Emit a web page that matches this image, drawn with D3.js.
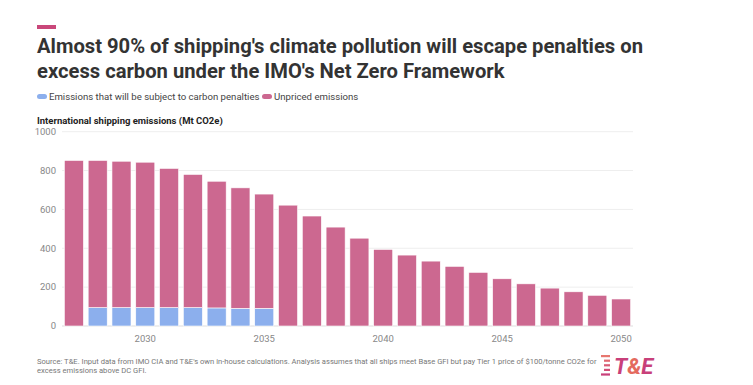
<!DOCTYPE html>
<html>
<head>
<meta charset="utf-8">
<script src="https://cdn.jsdelivr.net/npm/d3@7"></script>
<style>
  body { margin: 0; background: #fff; font-family: Roboto, "Noto Sans", sans-serif; }
  svg { display: block; }
</style>
</head>
<body>
<svg id="chart" width="753" height="385"></svg>
<script>
// data
let years = d3.range(2027, 2051);
let totalEmissions = [852, 852, 848, 843, 811, 780, 745, 711, 679, 622, 566, 509, 452, 394, 365, 334, 307, 276, 243, 217, 195, 176, 158, 139];
let penalised = [0, 95, 95, 95, 95, 95, 93, 91, 91, 0, 0, 0, 0, 0, 0, 0, 0, 0, 0, 0, 0, 0, 0, 0];
let yTicks = [0, 200, 400, 600, 800, 1000];
let xTicks = [2030, 2035, 2040, 2045, 2050];

let seriesNames = ['Emissions that will be subject to carbon penalties', 'Unpriced emissions'];
let pink = '#cc6890';
let blue = '#8cafed';

let svg = d3.select('#chart');

// top accent bar
svg.append('rect').attr('x', 37).attr('y', 25).attr('width', 19).attr('height', 4).attr('fill', '#c9477a');

// title
let titleLines = ["Almost 90% of shipping's climate pollution will escape penalties on",
  "excess carbon under the IMO's Net Zero Framework"];
svg.append('text')
  .attr('x', 37).attr('y', 53)
  .attr('font-size', 20.2).attr('font-weight', 'bold').attr('fill', '#333')
  .selectAll('tspan').data(titleLines).enter().append('tspan')
  .attr('x', 37).attr('dy', (d, i) => i === 0 ? 0 : 25)
  .text(d => d);

// legend
let legend = svg.append('g').attr('transform', 'translate(37, 96)');
let legendX = [0, 225];
seriesNames.forEach((name, i) => {
  let g = legend.append('g').attr('transform', 'translate(' + legendX[i] + ',0)');
  g.append('rect').attr('x', 0).attr('y', -2).attr('width', 10).attr('height', 5).attr('rx', 2.5)
    .attr('fill', i === 0 ? blue : pink);
  g.append('text').attr('x', 12).attr('y', 3.5).attr('font-size', 9.6).attr('fill', '#444').text(name);
});

// axis title
svg.append('text').attr('x', 37).attr('y', 124).attr('font-size', 9.5).attr('font-weight', 'bold')
  .attr('fill', '#222').text('International shipping emissions (Mt CO2e)');

let x = d3.scaleBand().domain(years).range([62, 633]).paddingInner(0.2).paddingOuter(0.1);
let y = d3.scaleLinear().domain([0, 1000]).range([326, 131.7]);

// grid
svg.append('g').selectAll('line').data(yTicks).enter().append('line')
  .attr('x1', 62).attr('x2', 633)
  .attr('y1', d => y(d)).attr('y2', d => y(d))
  .attr('stroke', d => d === 0 ? '#ddd' : '#eee').attr('stroke-width', 1);

svg.append('g').selectAll('text').data(yTicks).enter().append('text')
  .attr('x', 56).attr('y', d => y(d)).attr('dy', '0.35em')
  .attr('text-anchor', 'end').attr('font-size', 9.5).attr('fill', '#888')
  .text(d => d);

// stacked bars
let rows = years.map((yr, i) => ({ year: yr, penalised: penalised[i], unpriced: totalEmissions[i] - penalised[i] }));
let stack = d3.stack().keys(['penalised', 'unpriced'])(rows);
let colors = [blue, pink];

svg.append('g').selectAll('g').data(stack).enter().append('g')
  .attr('fill', (d, i) => colors[i])
  .selectAll('rect').data(d => d.filter(p => p[1] - p[0] > 0)).enter().append('rect')
  .attr('x', d => x(d.data.year))
  .attr('width', x.bandwidth())
  .attr('y', d => y(d[1]))
  .attr('height', d => y(d[0]) - y(d[1]))
  .attr('stroke', '#fff').attr('stroke-width', 0.6);

// x labels
svg.append('g').selectAll('text').data(xTicks).enter().append('text')
  .attr('x', d => x(d) + x.bandwidth() / 2).attr('y', 342)
  .attr('text-anchor', 'middle').attr('font-size', 9.5).attr('fill', '#888')
  .text(d => d);

// source note
let notes = ["Source: T&E. Input data from IMO CIA and T&E's own in-house calculations. Analysis assumes that all ships meet Base GFI but pay Tier 1 price of $100/tonne CO2e for",
  "excess emissions above DC GFI."];
svg.append('text').attr('font-size', 7.6).attr('fill', '#777')
  .selectAll('tspan').data(notes).enter().append('tspan')
  .attr('x', 37).attr('y', (d, i) => 364 + i * 9)
  .text(d => d);

// logo
let logo = svg.append('g').attr('transform', 'translate(601, 355)');
[0, 1, 2, 3, 4].forEach(i => {
  logo.append('rect').attr('x', i === 0 || i === 4 ? 0 : 3).attr('y', i * 4.6).attr('width', i === 0 || i === 4 ? 9 : 6).attr('height', 2.2)
    .attr('fill', d3.interpolateRgb('#e7766f', '#c9407a')(i / 4));
});
logo.append('text').attr('x', 13).attr('y', 19).attr('font-size', 22).attr('font-weight', 'bold')
  .attr('font-style', 'italic').attr('fill', '#c8407a')
  .selectAll('tspan').data(['T', '&', 'E']).enter().append('tspan')
  .attr('fill', (d, i) => i === 1 ? '#e46a5e' : '#c8407a')
  .text(d => d);
</script>
</body>
</html>
